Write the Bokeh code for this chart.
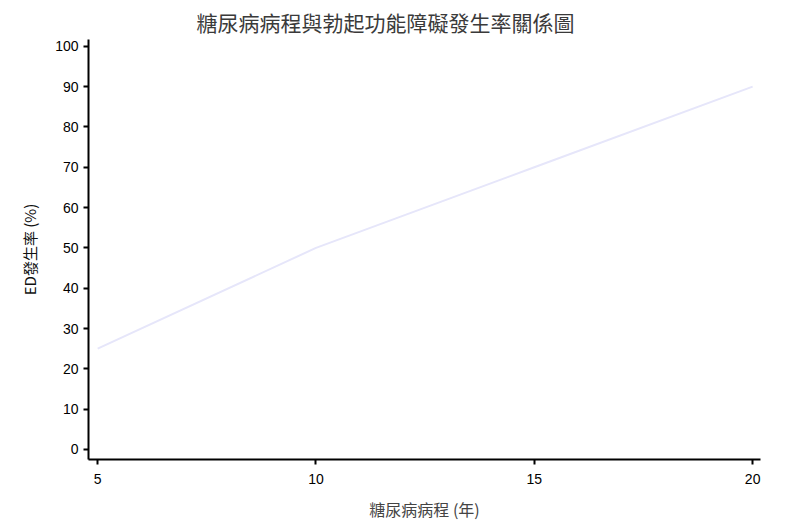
from bokeh.plotting import figure
from bokeh.models import Range1d, FixedTicker
from bokeh.embed import file_html
from bokeh.resources import INLINE

years = [5, 10, 15, 20]
ed_rate = [25, 50, 70, 90]
x_ticks = [5, 10, 15, 20]
y_ticks = [0, 10, 20, 30, 40, 50, 60, 70, 80, 90, 100]

p = figure(width=784, height=523, output_backend="svg", toolbar_location=None,
           x_range=Range1d(4.79, 20.18), y_range=Range1d(-2.5, 101.7),
           title="糖尿病病程與勃起功能障礙發生率關係圖",
           min_border_left=88, min_border_right=24, min_border_top=39, min_border_bottom=56)
p.line(years, ed_rate, line_color="#e6e6fa", line_width=2)

p.title.align = "left"
p.title.offset = 108
p.title.text_font = "Noto Sans CJK TC"
p.title.text_font_size = "21px"
p.title.text_font_style = "normal"
p.title.text_color = "#3a3a3a"
p.title.standoff = 6

p.grid.visible = False
p.outline_line_color = None
p.background_fill_color = "white"

for ax in (p.xaxis[0], p.yaxis[0]):
    ax.axis_line_width = 2
    ax.axis_line_color = "black"
    ax.major_tick_line_width = 2
    ax.major_tick_line_color = "black"
    ax.major_tick_out = 5
    ax.major_tick_in = 0
    ax.minor_tick_line_color = None
    ax.major_label_text_font = "Liberation Sans"
    ax.major_label_text_font_size = "14px"
    ax.major_label_text_color = "black"
    ax.axis_label_text_font_style = "normal"

p.xaxis.ticker = FixedTicker(ticks=x_ticks)
p.yaxis.ticker = FixedTicker(ticks=y_ticks)
p.xaxis.major_label_standoff = 9
p.xaxis.axis_label = "糖尿病病程 (年)"
p.xaxis.axis_label_text_font = "Noto Sans CJK TC"
p.xaxis.axis_label_text_font_size = "16px"
p.xaxis.axis_label_text_color = "#444444"
p.xaxis.axis_label_standoff = 10
p.yaxis.axis_label = "ED發生率 (%)"
p.yaxis.axis_label_text_font = "Noto Sans CJK TC"
p.yaxis.axis_label_text_font_size = "15px"
p.yaxis.axis_label_text_color = "#111111"
p.yaxis.axis_label_standoff = 12

open("out.html", "w").write(file_html(p, INLINE))
